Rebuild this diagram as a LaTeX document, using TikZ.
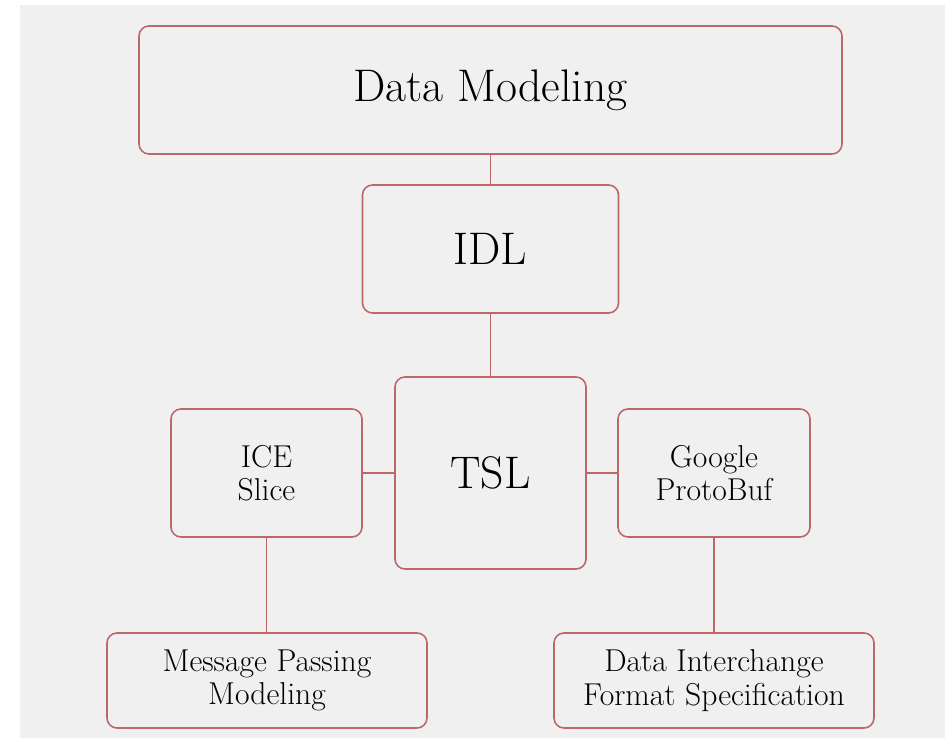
\documentclass[tikz,border=0pt]{standalone}
\usepackage{tikz}
\usetikzlibrary{positioning, calc}
\definecolor{boxred}{RGB}{188, 104, 104}
\definecolor{paper}{RGB}{240, 240, 240}

\begin{document}
\begin{tikzpicture}[
    box/.style={draw=boxred, line width=0.9pt, rounded corners=0.2cm, inner sep=0pt, align=center},
    bigtext/.style={font=\fontsize{26}{30}\selectfont},
    smalltext/.style={font=\fontsize{18}{19}\selectfont}]
  % canvas
  \useasboundingbox (0,0) rectangle (18.9,-14.76);
  \fill[paper] (0.4,-0.1) rectangle (18.9,-14.76);
  % top levels
  \node[box, bigtext, minimum width=14.06cm, minimum height=2.56cm] (dm)  at (9.81,-1.80) {Data Modeling};
  \node[box, bigtext, minimum width=5.12cm,  minimum height=2.56cm] (idl) at (9.81,-4.98) {IDL};
  \node[box, bigtext, minimum width=3.82cm,  minimum height=3.84cm] (tsl) at (9.81,-9.46) {TSL};
  % side boxes
  \node[box, smalltext, minimum width=3.82cm, minimum height=2.56cm] (ice) at (5.33,-9.46)  {ICE\\Slice};
  \node[box, smalltext, minimum width=3.84cm, minimum height=2.56cm] (gpb) at (14.28,-9.46) {Google\\ProtoBuf};
  % bottom boxes
  \node[box, smalltext, minimum width=6.40cm, minimum height=1.90cm] (mpm) at (5.34,-13.61)  {Message Passing\\Modeling};
  \node[box, smalltext, minimum width=6.40cm, minimum height=1.90cm] (dif) at (14.28,-13.61) {Data Interchange\\Format Specification};
  % connectors
  \draw[boxred, line width=0.9pt] (dm) -- (idl);
  \draw[boxred, line width=0.9pt] (idl) -- (tsl);
  \draw[boxred, line width=0.9pt] (tsl) -- (ice);
  \draw[boxred, line width=0.9pt] (tsl) -- (gpb);
  \draw[boxred, line width=0.9pt] (ice) -- (ice |- mpm.north);
  \draw[boxred, line width=0.9pt] (gpb) -- (gpb |- dif.north);
\end{tikzpicture}
\end{document}
